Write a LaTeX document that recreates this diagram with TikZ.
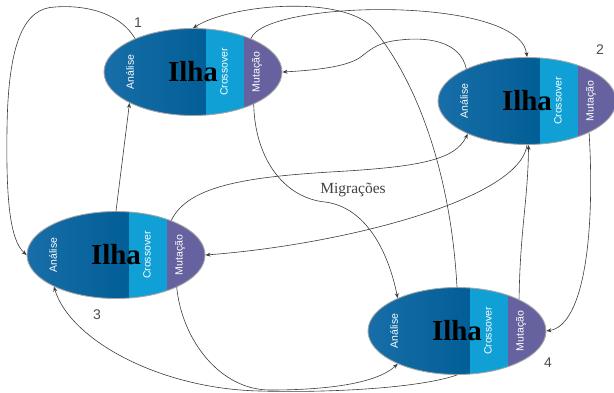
\documentclass[tikz,border=0pt]{standalone}
\usepackage{fontspec}
\setmainfont{Liberation Serif}
\setsansfont{Liberation Sans}
\usepackage{xcolor}
\usepackage{tikz}
\usetikzlibrary{shapes.geometric, arrows.meta, positioning, calc}

\definecolor{azulclaro}{RGB}{24,110,168}
\definecolor{azulescuro}{RGB}{2,94,150}
\definecolor{ciano}{RGB}{16,160,214}
\definecolor{roxo}{RGB}{102,98,160}
\definecolor{linha}{RGB}{60,60,60}

% one island: name, centre
\newcommand{\ilha}[2]{%
  \begin{scope}
    \clip (#2) ellipse [x radius=89pt, y radius=43.5pt];
    \shade[left color=azulclaro, right color=azulescuro] ($(#2)+(-90,-45)$) rectangle ($(#2)+(13,45)$);
    \fill[ciano] ($(#2)+(13,-45)$) rectangle ($(#2)+(51,45)$);
    \fill[roxo] ($(#2)+(51,-45)$) rectangle ($(#2)+(90,45)$);
  \end{scope}
  \node (#1) [ilhaborda] at (#2) {};
  \node (#1-ilha) [ilhatexto] at (#2) {Ilha};
  \node (#1-an) [faixa] at ($(#2)+(-63,0)$) {Análise};
  \node (#1-cr) [faixa] at ($(#2)+(31,0)$) {Crossover};
  \node (#1-mu) [faixa] at ($(#2)+(64,0)$) {Mutação};
}

\begin{document}
\begin{tikzpicture}[
    x=1pt, y=-1pt,
    ilhaborda/.style = {ellipse, draw=gray!70, line width=0.9pt, minimum width=178pt, minimum height=87pt, inner sep=0pt},
    ilhatexto/.style = {inner sep=0pt, font=\fontsize{29}{29}\selectfont\bfseries},
    faixa/.style = {rotate=90, inner sep=0pt, text=white, font=\sffamily\fontsize{10.5}{10.5}\selectfont},
    numero/.style = {inner sep=0pt, text=black!70, font=\sffamily\fontsize{14}{14}\selectfont},
    arrow/.style = {draw=linha, line width=0.6pt, -{Stealth[length=5pt, width=4pt]}}
]
\useasboundingbox (0,0) rectangle (614,392);

% Islands
\ilha{i1}{193,72}
\ilha{i2}{527,101}
\ilha{i3}{116,255}
\ilha{i4}{457,331}

% Labels
\node (n1) [numero] at (138,23) {1};
\node (n2) [numero] at (600,50) {2};
\node (n3) [numero] at (97,315) {3};
\node (n4) [numero] at (548,363) {4};
\node (mig) [inner sep=0pt, text=black!75, font=\fontsize{15.5}{15.5}\selectfont] at (353,190) {Migrações};

% Arrows
\draw [arrow] (i1.150) .. controls (118,10) and (80,5) .. (55,7) .. controls (25,8) and (8,40) .. (7,130) .. controls (6,200) and (10,240) .. (i3.west);
\draw [arrow] (i3.north) -- (i1.206);
\draw [arrow] (i1.30) .. controls (265,0) and (520,-5) .. (i2.north);
\draw [arrow] (i4.north) .. controls (450,160) and (410,70) .. (370,25) .. controls (335,-5) and (230,5) .. (i1.north);
\draw [arrow] (i2.152) .. controls (460,40) and (425,37) .. (400,40) .. controls (380,42) and (372,48) .. (362,56) .. controls (350,66) and (320,70) .. (i1.east);
\draw [arrow] (i1.332) .. controls (255,160) and (285,198) .. (325,202) .. controls (365,207) and (388,250) .. (i4.151);
\draw [arrow] (i3.32) .. controls (188,185) and (250,177) .. (330,172) .. controls (420,167) and (455,160) .. (i2.209);
\draw [arrow] (i2.south) .. controls (520,200) and (340,245) .. (i3.east);
\draw [arrow] (i4.27) .. controls (520,230) and (528,200) .. (i2.-88);
\draw [arrow] (i2.333) .. controls (595,230) and (585,325) .. (i4.east);
\draw [arrow] (i4.south) .. controls (420,388) and (330,393) .. (260,391) .. controls (160,389) and (70,340) .. (i3.207);
\draw [arrow] (i3.332) .. controls (182,340) and (220,390) .. (270,390) .. controls (320,390) and (375,385) .. (i4.209);

\end{tikzpicture}
\end{document}
